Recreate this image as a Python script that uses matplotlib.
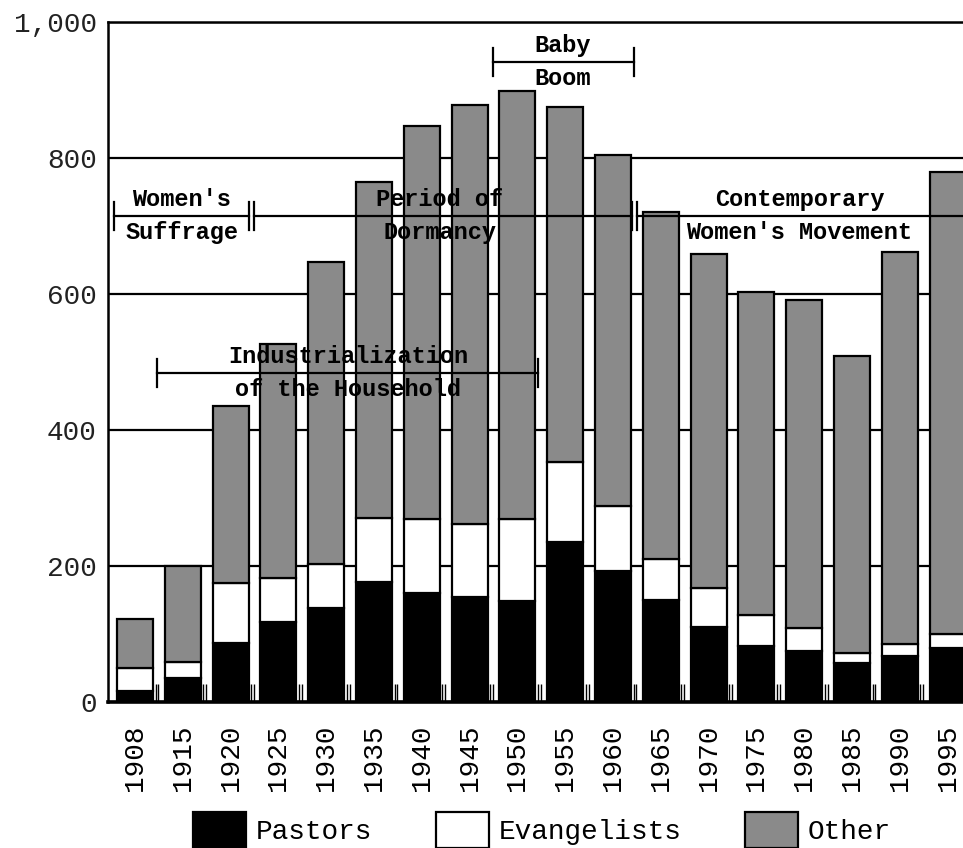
import matplotlib
matplotlib.use("Agg")
import matplotlib.pyplot as plt
import numpy as np

# data
years = ["1908", "1915", "1920", "1925", "1930", "1935", "1940", "1945", "1950",
         "1955", "1960", "1965", "1970", "1975", "1980", "1985", "1990", "1995"]
pastors = [16, 35, 87, 118, 138, 177, 160, 154, 149, 235, 193, 150, 110, 82, 75, 57, 68, 79]
evangelists = [34, 24, 88, 64, 65, 93, 109, 108, 120, 118, 95, 60, 58, 46, 34, 15, 17, 21]
other = [72, 141, 261, 344, 444, 495, 578, 616, 629, 522, 516, 511, 491, 475, 482, 437, 577, 679]

# eras: (label, start x, end x, line level, label centre x)
eras = [
    ("Women's\nSuffrage", -0.44, 2.38, 715, 0.98),
    ("Period of\nDormancy", 2.485, 10.39, 715, 6.38),
    ("Contemporary\nWomen's Movement", 10.495, 18.5, 715, 13.9),
    ("Baby\nBoom", 7.49, 10.44, 941, 8.95),
    ("Industrialization\nof the Household", 0.46, 8.43, 484, 4.46),
]

MONO = "Liberation Mono"
GRAY = "#8a8a8a"

fig = plt.figure(figsize=(9.63, 8.48), dpi=100)
ax = fig.add_axes([108 / 963, 1 - 702 / 848, 863 / 963, 680 / 848])

x = np.arange(len(years))
p = np.array(pastors)
e = np.array(evangelists)
o = np.array(other)
kw = dict(width=0.75, edgecolor="black", linewidth=1.6, zorder=3)
ax.bar(x, p, color="black", label="Pastors", **kw)
ax.bar(x, e, bottom=p, color="white", label="Evangelists", **kw)
ax.bar(x, o, bottom=p + e, color=GRAY, label="Other", **kw)

ax.set_xlim(-0.565, 17.49)
ax.set_ylim(0, 1000)
ax.set_yticks([0, 200, 400, 600, 800, 1000])
ax.set_yticklabels(["0", "200", "400", "600", "800", "1,000"], fontfamily=MONO,
                   fontsize=20, color="#222222")
ax.yaxis.grid(True, color="black", linewidth=1.6, zorder=1)
ax.set_axisbelow(True)
ax.tick_params(axis="y", length=0, pad=8)

ax.set_xticks(x)
ax.set_xticklabels(years, rotation=90, fontfamily=MONO, fontsize=20, va="top")
ax.tick_params(axis="x", length=0, pad=16)
ax.set_xticks(np.concatenate([x + 0.43, x + 0.49]), minor=True)
ax.tick_params(axis="x", which="minor", direction="in", length=13, width=1.0)

for s in ["top", "left"]:
    ax.spines[s].set_linewidth(1.8)
ax.spines["bottom"].set_linewidth(2.6)
ax.spines["right"].set_visible(False)

# era spans with end marks and labels
for label, x0, x1, lvl, xc in eras:
    ax.plot([x0, x1], [lvl, lvl], color="black", lw=1.6, zorder=5, clip_on=False)
    for xe in (x0, x1):
        ax.plot([xe, xe], [lvl - 21, lvl + 21], color="black", lw=1.6, zorder=5,
                clip_on=False)
    top, bot = label.split("\n")
    ax.text(xc, lvl + 24, top, ha="center", va="center", fontfamily=MONO,
            fontweight="bold", fontsize=17, zorder=6)
    ax.text(xc, lvl - 24, bot, ha="center", va="center", fontfamily=MONO,
            fontweight="bold", fontsize=17, zorder=6)

fig.legend(loc="center", bbox_to_anchor=(542 / 963, 1 - 830 / 848), ncol=3,
           frameon=False, prop={"family": MONO, "size": 20},
           handlelength=1.9, handleheight=1.6, handletextpad=0.35,
           columnspacing=2.3)

fig.savefig("out.png", dpi=100)
